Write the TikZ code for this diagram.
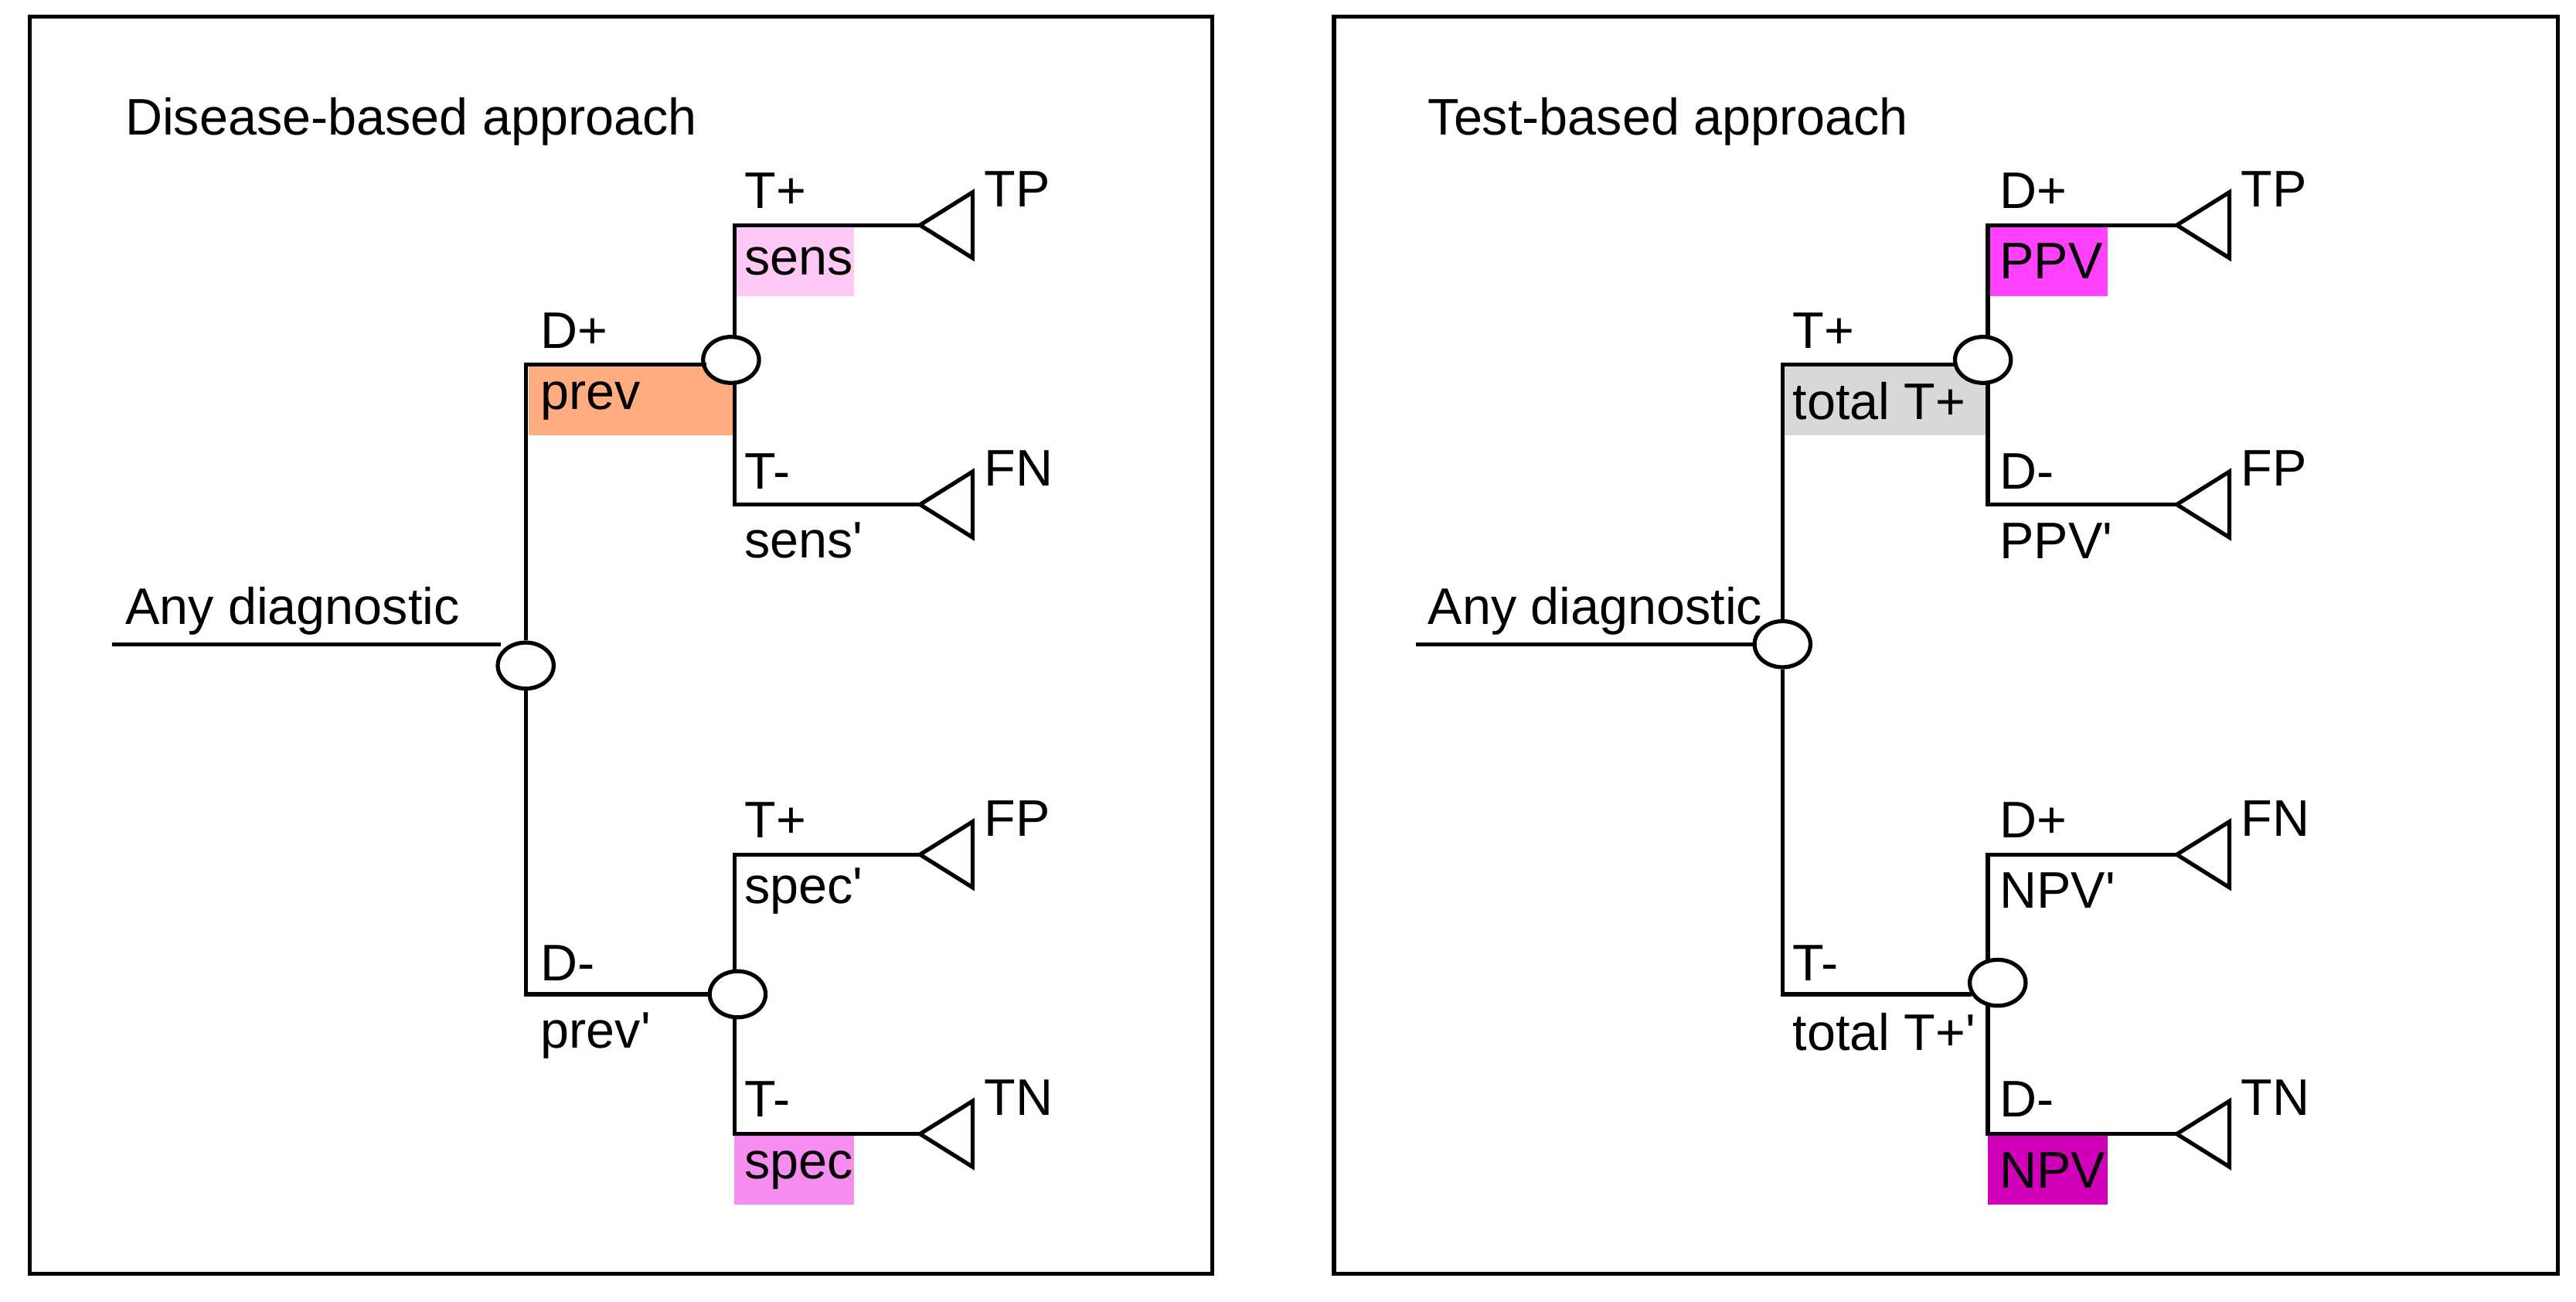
\documentclass[tikz,border=0pt]{standalone}
\usepackage{fontspec}
\setmainfont{Liberation Sans}
\usepackage{textcomp}
\usetikzlibrary{shapes.geometric}
\newcommand{\q}{\textquotesingle}
\begin{document}
\begin{tikzpicture}[x=0.01cm,y=-0.01cm,line width=0.7pt,
  chance/.style={draw,ellipse,fill=white,minimum width=0.34cm,minimum height=0.28cm,inner sep=0pt},
  lbl/.style={anchor=west,inner sep=0pt,font=\fontsize{8.9}{10}\selectfont}]
\definecolor{orng}{HTML}{FFAD80}
\definecolor{pinkA}{HTML}{FFC8F5}
\definecolor{pinkB}{HTML}{F78CF0}
\definecolor{ppv}{HTML}{FF40FF}
\definecolor{npv}{HTML}{D000B8}
\definecolor{grey}{HTML}{D8D8D8}
\useasboundingbox (0,0) rectangle (1568,792);
\draw (18,10) rectangle (738,775);
\draw (812,10) rectangle (1557,775);

% terminal triangles
\newcommand{\term}[3]{\draw (#1,#2) -- (#1+32,#2-20) -- (#1+32,#2+20) -- cycle;
  \node[lbl] at (#1+38,#2-22) {#3};}

% ---------- left: disease-based
\node[lbl] at (75,74) {Disease-based approach};
\fill[orng] (322,222) rectangle (447,265);
\fill[pinkA] (447,137) rectangle (520,180);
\fill[pinkB] (447,690) rectangle (520,733);
\coordinate (r0) at (68,392);
\node[chance] (c1) at (320,405) {};
\node[chance] (c2) at (445,219) {};
\node[chance] (c3) at (449,605) {};
\draw (r0) -- (305,392);
\draw (c1.north) -- (320,222) -- (430,222);
\draw (c1.south) -- (320,605) -- (c3.west);
\draw (447,233) -- (447,307) -- (560,307);
\draw (447,205) -- (447,137) -- (560,137);
\draw (447,591) -- (447,520) -- (560,520);
\draw (447,619) -- (447,690) -- (560,690);
\term{560}{137}{TP}\term{560}{307}{FN}\term{560}{520}{FP}\term{560}{690}{TN}
\node[lbl] at (75,372) {Any diagnostic};
\node[lbl] at (328,201) {D+};
\node[lbl] at (328,244) {prev};
\node[lbl] at (328,586) {D-};
\node[lbl] at (328,630) {prev\q};
\node[lbl] at (452,116) {T+};
\node[lbl] at (452,159) {sens};
\node[lbl] at (452,287) {T-};
\node[lbl] at (452,329) {sens\q};
\node[lbl] at (452,499) {T+};
\node[lbl] at (452,542) {spec\q};
\node[lbl] at (452,669) {T-};
\node[lbl] at (452,712) {spec};

% ---------- right: test-based
\node[lbl] at (868,74) {Test-based approach};
\fill[grey] (1085,222) rectangle (1210,265);
\fill[ppv] (1210,137) rectangle (1283,180);
\fill[npv] (1210,690) rectangle (1283,733);
\coordinate (s0) at (862,392);
\node[chance] (d1) at (1085,392) {};
\node[chance] (d2) at (1207,219) {};
\node[chance] (d3) at (1216,598) {};
\draw (s0) -- (d1.west);
\draw (d1.north) -- (1085,222) -- (1191,222);
\draw (d1.south) -- (1085,605) -- (1200,605);
\draw (1210,233) -- (1210,307) -- (1325,307);
\draw (1210,205) -- (1210,137) -- (1325,137);
\draw (1210,584) -- (1210,520) -- (1325,520);
\draw (1210,612) -- (1210,690) -- (1325,690);
\term{1325}{137}{TP}\term{1325}{307}{FP}\term{1325}{520}{FN}\term{1325}{690}{TN}
\node[lbl] at (868,372) {Any diagnostic};
\node[lbl] at (1090,201) {T+};
\node[lbl] at (1090,244) {total T+};
\node[lbl] at (1090,586) {T-};
\node[lbl] at (1090,628) {total T+\q};
\node[lbl] at (1216,116) {D+};
\node[lbl] at (1216,159) {PPV};
\node[lbl] at (1216,287) {D-};
\node[lbl] at (1216,329) {PPV\q};
\node[lbl] at (1216,499) {D+};
\node[lbl] at (1216,542) {NPV\q};
\node[lbl] at (1216,669) {D-};
\node[lbl] at (1216,712) {NPV};
\end{tikzpicture}
\end{document}
